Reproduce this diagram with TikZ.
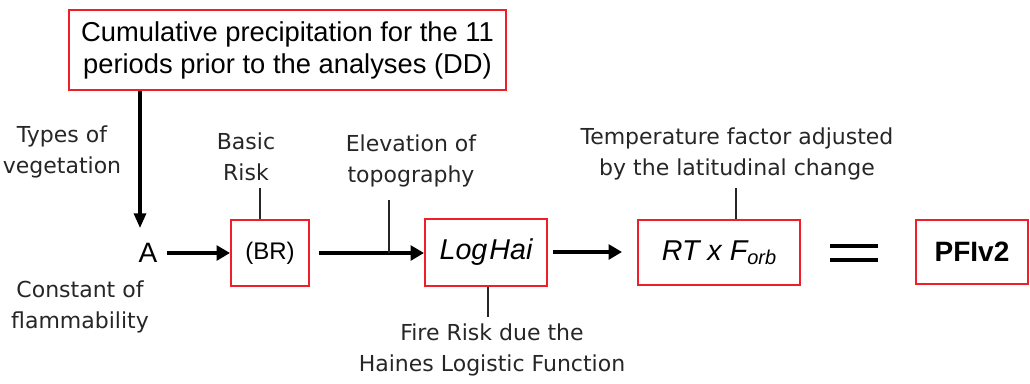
\documentclass[tikz,border=0pt]{standalone}
\usepackage{fontspec}
\setmainfont{Liberation Sans}
\newfontfamily\labfont{DejaVu Sans}
\usetikzlibrary{arrows.meta}
\definecolor{boxred}{RGB}{240,30,40}
\tikzset{
  redbox/.style={draw=boxred, line width=1.5pt, inner sep=0pt, align=center, font=\fontsize{20.5}{24}\selectfont},
  lab/.style={align=center, inner sep=0pt, font=\labfont\fontsize{16.5}{23}\selectfont, text=black!85},
  thin/.style={line width=1.1pt, draw=black!85},
  harrow/.style={line width=3.6pt, -{Triangle[length=10pt,width=11pt]}},
  varrow/.style={line width=2.3pt, -{Triangle[length=11pt,width=9pt]}},
  eqline/.style={line width=3pt}
}
\begin{document}
\begin{tikzpicture}[x=0.75pt,y=-0.75pt]
\useasboundingbox (0,0) rectangle (1030,383);
% boxes
\node[redbox, minimum width=327.75pt, minimum height=60pt] (top) at (287.5,50)
  {Cumulative precipitation for the 11\\ periods prior to the analyses (DD)};
\node[inner sep=0pt, outer sep=7.5pt, font=\fontsize{21}{24}\selectfont] (A) at (148,253) {A};
\node[redbox, minimum width=58.5pt, minimum height=49.5pt, font=\fontsize{18}{22}\selectfont] (BR) at (270,253) {(BR)};
\node[redbox, minimum width=91.5pt, minimum height=50.25pt, font=\fontsize{21.5}{24}\selectfont\itshape] (LH) at (486,252) {Log\kern1.5pt Hai};
\node[redbox, minimum width=121.5pt, minimum height=48.75pt, font=\fontsize{21.5}{24}\selectfont\itshape] (RT) at (719,252.5) {RT x F\raisebox{-3pt}{\fontsize{15}{16}\selectfont orb}};
\node[redbox, minimum width=84pt, minimum height=48pt, font=\fontsize{21}{24}\selectfont\bfseries] (PF) at (972,252) {PFIv2};
% labels
\node[lab] (veg) at (62,152) {Types of\\vegetation};
\node[lab] (flam) at (80,307) {Constant of\\flammability};
\node[lab] (basic) at (246,157) {Basic\\Risk};
\node[lab] (elev) at (411,161) {Elevation of\\topography};
\node[lab] (temp) at (737,154) {Temperature factor adjusted\\by the latitudinal change};
\node[lab] (fire) at (492,350) {Fire Risk due the\\Haines Logistic Function};
% coordinates
\coordinate (vtip) at (140,228);
\coordinate (bl) at (260,188);
\coordinate (el) at (389,200);
\coordinate (fl) at (488,317);
\coordinate (tl) at (736,188);
\coordinate (e1a) at (830,246);
\coordinate (e1b) at (878,246);
\coordinate (e2a) at (830,260);
\coordinate (e2b) at (878,260);
% connectors
\draw[varrow] (top.south -| vtip) -- (vtip);
\draw[harrow] (A.east) -- (BR.west);
\draw[harrow, shorten <=6.75pt] (BR.east) -- (BR.east -| LH.west);
\draw[harrow, shorten <=3.75pt, shorten >=11.25pt] (LH.east) -- (LH.east -| RT.west);
\draw[thin] (bl) -- (bl |- BR.north);
\draw[thin] (el) -- (el |- BR.east);
\draw[thin] (fl |- LH.south) -- (fl);
\draw[thin] (tl) -- (tl |- RT.north);
\draw[eqline] (e1a) -- (e1b);
\draw[eqline] (e2a) -- (e2b);
\end{tikzpicture}
\end{document}
